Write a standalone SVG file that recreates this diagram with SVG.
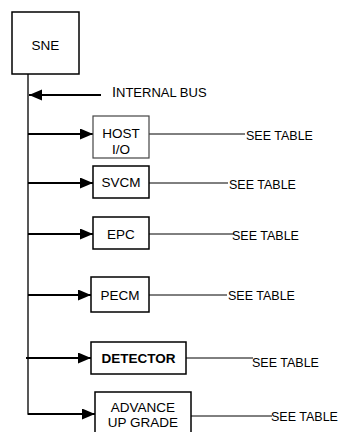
<svg xmlns="http://www.w3.org/2000/svg" width="340" height="432" viewBox="0 0 340 432">
  <defs>
    <marker id="arrow" markerUnits="userSpaceOnUse" markerWidth="14" markerHeight="12" refX="13" refY="5.5" orient="auto">
      <path d="M0,0 L13,5.5 L0,11 z" fill="#000"/>
    </marker>
  </defs>
  <style>
    .box { fill: #fff; stroke: #000; stroke-width: 1.5; }
    .lbl { font-family: "Liberation Sans", Arial, sans-serif; font-size: 13.5px; fill: #000; text-anchor: middle; }
    .ref { font-family: "Liberation Sans", Arial, sans-serif; font-size: 12.5px; fill: #000; }
    .bus { fill: none; stroke: #222; stroke-width: 1.5; }
    .feed { fill: none; stroke: #000; stroke-width: 2; marker-end: url(#arrow); }
    .lead { fill: none; stroke: #000; stroke-width: 1; }
  </style>
  <rect width="340" height="432" fill="#fff"/>

  <!-- bus trunk, feeds and reference leaders -->
  <g id="connectors">
    <path class="bus" d="M28,74 V414 H80"/>
    <path class="feed" d="M101,95 H29"/>
    <path class="feed" d="M28,134 H93"/>
    <path class="feed" d="M28,183 H93"/>
    <path class="feed" d="M28,234 H93"/>
    <path class="feed" d="M28,295 H91"/>
    <path class="feed" d="M26,358 H91"/>
    <path class="feed" d="M28,414 H95"/>
    <path class="lead" d="M149,134 H245"/>
    <path class="lead" d="M149,183 H228"/>
    <path class="lead" d="M149,234 H234"/>
    <path class="lead" d="M149,295 H227"/>
    <path class="lead" d="M186,358 H253"/>
    <path class="lead" d="M191,416 H272"/>
  </g>

  <g id="sne">
    <rect class="box" x="12" y="12" width="67" height="62"/>
    <text class="lbl" x="45.5" y="50">SNE</text>
  </g>

  <g id="internal-bus">
    <text class="ref" x="112" y="97"><tspan font-size="14.5">I</tspan><tspan font-size="13">NTERNAL BUS</tspan></text>
  </g>

  <g id="host-io">
    <rect x="93" y="116" width="56" height="42" fill="#fff" stroke="#444" stroke-width="1.2"/>
    <text class="lbl" x="121" y="138">HOST</text>
    <text class="lbl" x="121" y="154">I/O</text>
    <text class="ref" x="246" y="140">SEE TABLE</text>
  </g>

  <g id="svcm">
    <rect class="box" x="93" y="166" width="56" height="32" stroke-width="2"/>
    <text class="lbl" x="121" y="187">SVCM</text>
    <text class="ref" x="229" y="189">SEE TABLE</text>
  </g>

  <g id="epc">
    <rect class="box" x="93" y="217" width="56" height="32"/>
    <text class="lbl" x="121" y="239">EPC</text>
    <text class="ref" x="232" y="240">SEE TABLE</text>
  </g>

  <g id="pecm">
    <rect class="box" x="91" y="277" width="58" height="35"/>
    <text class="lbl" x="120" y="300">PECM</text>
    <text class="ref" x="228" y="300">SEE TABLE</text>
  </g>

  <g id="detector">
    <rect class="box" x="91" y="342" width="95" height="32"/>
    <text class="lbl" x="138.5" y="363" font-weight="bold">DETECTOR</text>
    <text class="ref" x="252" y="367">SEE TABLE</text>
  </g>

  <g id="advance-upgrade">
    <rect class="box" x="95" y="392" width="96" height="44"/>
    <text class="lbl" x="143" y="412">ADVANCE</text>
    <text class="lbl" x="143" y="427">UP GRADE</text>
    <text class="ref" x="271" y="421">SEE TABLE</text>
  </g>
</svg>
